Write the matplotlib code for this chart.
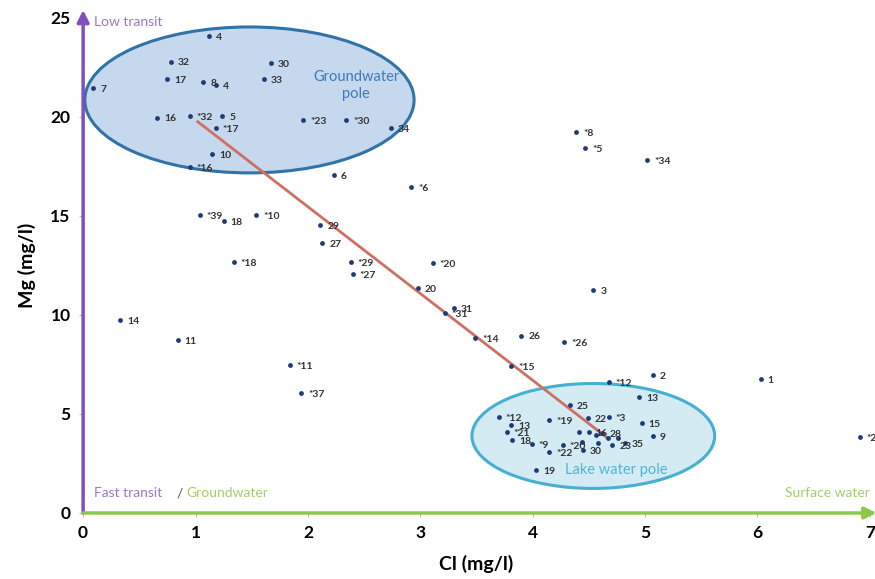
import matplotlib
matplotlib.use("Agg")
import matplotlib.pyplot as plt
from matplotlib.patches import Ellipse

plt.rcParams['font.family'] = ['Lato', 'DejaVu Sans']

# ---- data (Cl mg/l, Mg mg/l, sample label) ----
cl_values = [1.12, 0.78, 1.67, 0.75, 1.07, 1.18, 1.61, 0.09, 0.66, 0.95, 1.24, 1.18,
             1.96, 2.34, 2.74, 1.15, 0.95, 2.23, 2.92, 1.04, 1.25, 1.54, 2.11, 2.13,
             1.34, 2.38, 2.40, 2.98, 3.11, 3.30, 3.22, 3.49, 3.90, 4.28, 3.81, 4.54,
             4.39, 4.47, 5.02, 0.33, 0.84, 1.84, 1.94,
             4.68, 5.07, 4.95, 6.03, 6.91, 4.33, 3.70, 4.15, 4.49, 4.68, 4.97, 3.81,
             3.77, 5.07, 3.82, 3.99, 4.15, 4.27, 4.41, 4.50, 4.62, 4.44, 4.45, 4.56,
             4.58, 4.67, 4.71, 4.76, 4.82, 4.03]
mg_values = [24.1, 22.8, 22.7, 21.9, 21.75, 21.6, 21.9, 21.45, 19.97, 20.05, 20.05, 19.46,
             19.85, 19.85, 19.46, 18.13, 17.46, 17.07, 16.45, 15.05, 14.76, 15.05, 14.55, 13.65,
             12.66, 12.66, 12.05, 11.38, 12.64, 10.34, 10.08, 8.85, 8.96, 8.65, 7.44, 11.25,
             19.24, 18.45, 17.83, 9.75, 8.74, 7.46, 6.04,
             6.6, 6.97, 5.87, 6.75, 3.82, 5.45, 4.85, 4.68, 4.81, 4.85, 4.55, 4.44,
             4.07, 3.87, 3.69, 3.49, 3.06, 3.43, 4.07, 4.07, 4.02, 3.60, 3.18, 3.94,
             3.52, 3.77, 3.43, 3.77, 3.52, 2.17]
sample_labels = ["4", "32", "30", "17", "8", "4", "33", "7", "16", "*32", "5", "*17",
                 "*23", "*30", "34", "10", "*16", "6", "*6", "*39", "18", "*10", "29", "27",
                 "*18", "*29", "*27", "20", "*20", "31", "*31", "*14", "26", "*26", "*15", "3",
                 "*8", "*5", "*34", "14", "11", "*11", "*37",
                 "*12", "2", "13", "1", "*23", "25", "*12", "*19", "22", "*3", "15", "13",
                 "*21", "9", "18", "*9", "*22", "*20", "", "16", "28", "", "30", "",
                 "", "", "23", "", "35", "19"]

# mixing line between the two poles
trend_cl = [1.02, 4.67]
trend_mg = [19.76, 3.77]

x_ticks = [0, 1, 2, 3, 4, 5, 6, 7]
y_ticks = [0, 5, 10, 15, 20, 25]

purple = "#7f4fc0"
green = "#8cc84b"

fig = plt.figure(figsize=(8.75, 5.79), dpi=100)
ax = fig.add_axes([0.095, 0.114, 0.899, 0.855])
ax.set_xlim(0, 7)
ax.set_ylim(0, 25)

# pole ellipses
ax.add_patch(Ellipse((1.48, 20.86), 2.93, 7.37, facecolor="#c6d8ee",
                     edgecolor="#2f73a8", lw=2.2, zorder=1))
ax.add_patch(Ellipse((4.54, 3.89), 2.16, 5.3, facecolor="#d4ebf4",
                     edgecolor="#45b0d2", lw=2.2, zorder=1))
ax.text(2.43, 21.6, "Groundwater\npole", color="#3f79b8", fontsize=10.5,
        ha="center", va="center", linespacing=1.3, zorder=2)
ax.text(4.74, 2.17, "Lake water pole", color="#4fb5d6", fontsize=10.5,
        ha="center", va="center", zorder=2)

# trend line
ax.plot(trend_cl, trend_mg, color="#cf6f62", lw=2, zorder=3)

# points and labels
ax.scatter(cl_values, mg_values, s=12, color="#1f3a78", zorder=4, linewidths=0)
for x, y, lab in zip(cl_values, mg_values, sample_labels):
    if lab:
        ax.annotate(lab, (x, y), xytext=(5, -1), textcoords="offset points",
                    fontsize=7.5, fontweight="bold", color="#333333",
                    va="center", ha="left", zorder=5, annotation_clip=False)

# axes arrows
for s in ax.spines.values():
    s.set_visible(False)
ax.annotate("", xy=(0, 25.4), xytext=(0, 0), xycoords="data",
            arrowprops=dict(arrowstyle="-|>,head_width=0.35,head_length=0.7",
                            color=purple, lw=2.5, shrinkA=0, shrinkB=0),
            annotation_clip=False, zorder=6)
ax.annotate("", xy=(7.06, 0), xytext=(0, 0), xycoords="data",
            arrowprops=dict(arrowstyle="-|>,head_width=0.35,head_length=0.7",
                            color=green, lw=2.5, shrinkA=0, shrinkB=0),
            annotation_clip=False, zorder=6)

ax.set_xticks(x_ticks)
ax.set_yticks(y_ticks)
ax.tick_params(axis="both", length=3, color="#bbbbbb", labelsize=12.5, pad=6)
for t in ax.get_xticklabels() + ax.get_yticklabels():
    t.set_fontweight("bold")
ax.set_xlabel("Cl (mg/l)", fontsize=14, fontweight="bold", labelpad=10)
ax.set_ylabel("Mg (mg/l)", fontsize=14, fontweight="bold", labelpad=10)

# annotations on axes
ax.text(0.1, 24.8, "Low transit", color="#9a78c9", fontsize=10, va="center", ha="left")
ax.text(0.1, 1.0, "Fast transit", color="#9a78c9", fontsize=10, va="center", ha="left")
ax.text(0.83, 1.0, "/", color="#555555", fontsize=10, va="center", ha="left")
ax.text(0.92, 1.0, "Groundwater", color="#9fd06a", fontsize=10, va="center", ha="left")
ax.text(7.0, 1.0, "Surface water", color="#9fd06a", fontsize=10, va="center", ha="right")

fig.savefig("out.png", dpi=100)
